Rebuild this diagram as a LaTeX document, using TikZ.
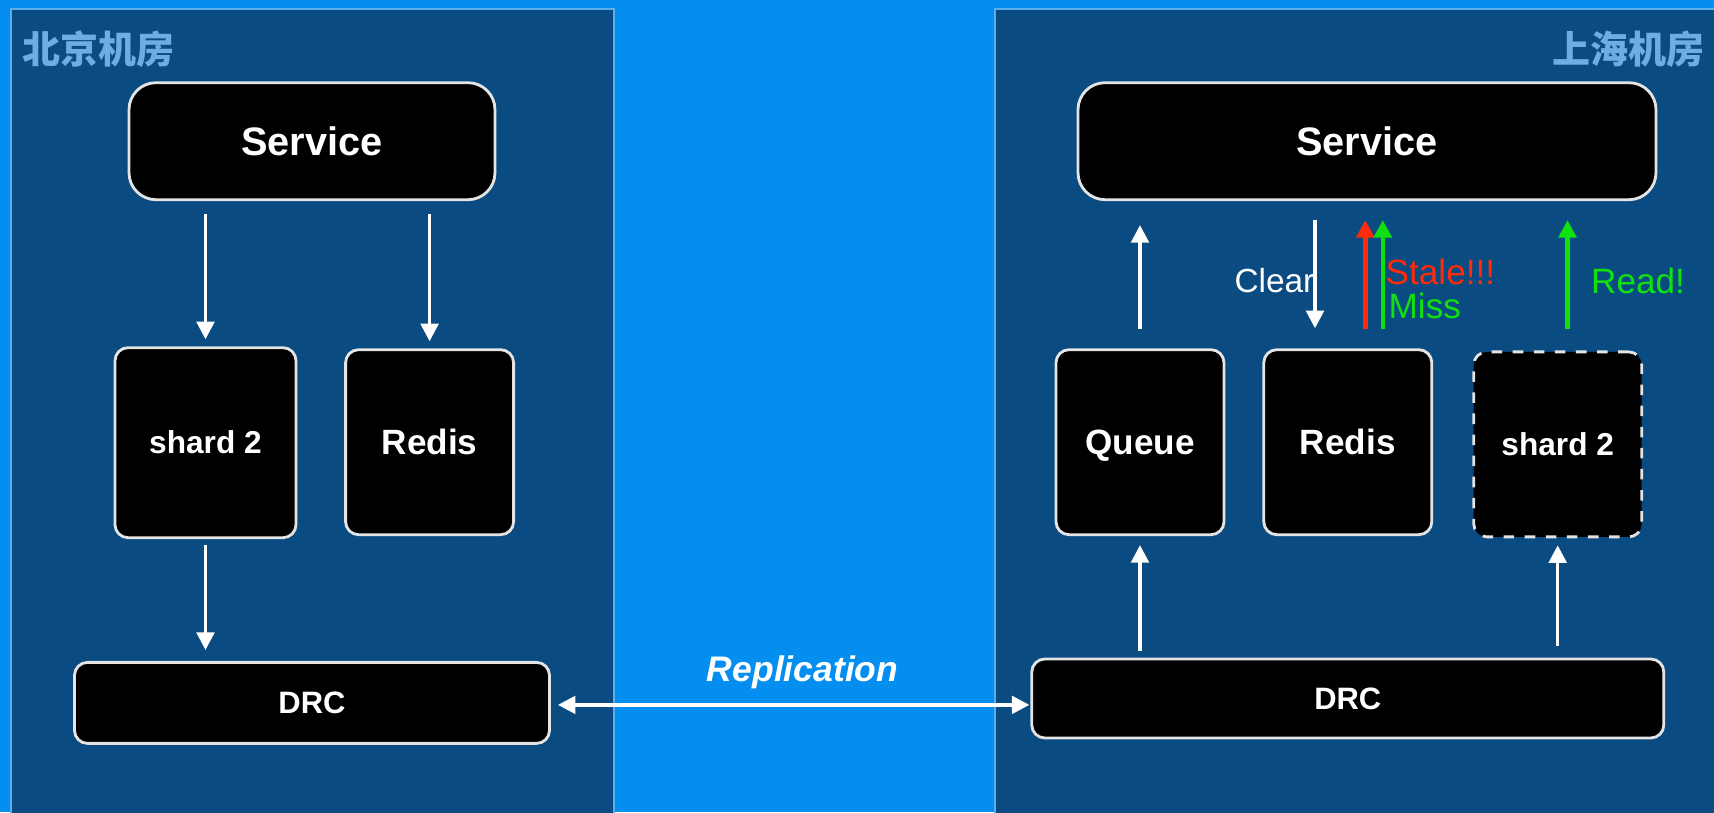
\documentclass[tikz,border=0pt]{standalone}
\usepackage{fontspec}
\setmainfont{Liberation Sans}
\newfontfamily\cjkfont{Noto Sans CJK SC}
\usetikzlibrary{arrows.meta}
\definecolor{skyblue}{HTML}{048FF0}
\definecolor{roomblue}{HTML}{0A4B82}
\definecolor{roomline}{HTML}{5AAEEA}
\definecolor{titleblue}{HTML}{6CAEE2}
\definecolor{boxline}{HTML}{E4E4E4}
\definecolor{okgreen}{HTML}{10E010}
\definecolor{badred}{HTML}{FF2A0A}

\begin{document}
\begin{tikzpicture}[box node/.style={draw=boxline, fill=black, line width=0.8pt, rounded corners=0.13cm,
              inner sep=0pt, text=white, font=\bfseries\fontsize{10pt}{12pt}\selectfont},
            white edge/.style={draw=white, line width=1pt, -{Triangle[length=5pt,width=5pt]}}]
            \tikzset{red edge/.style={draw=badred, line width=1.3pt, -{Triangle[length=5pt,width=5pt]}}}
            \tikzset{green edge/.style={draw=okgreen, line width=1.3pt, -{Triangle[length=5pt,width=5pt]}}}
            \tikzset{room/.style={fill=roomblue, draw=roomline, line width=0.6pt}}
            \tikzset{room title/.style={text=titleblue, inner sep=0pt, font=\cjkfont\bfseries\fontsize{10.8pt}{12pt}\selectfont}}
            \useasboundingbox (0,0) rectangle (17.14,8.122);
            \clip (0,0) rectangle (17.14,8.122);
            \fill[skyblue] (0,0) rectangle (17.14,8.122);
            \draw[room] (0.11,-0.2) rectangle (6.14,8.03);
            \draw[room] (9.95,-0.2) rectangle (17.4,8.03);
            \node[room title, anchor=west] (bj) at (0.22,7.63) {北京机房};
            \node[room title, anchor=east] (sh) at (17.05,7.63) {上海机房};
            % Beijing
            \node[box node, rounded corners=0.27cm, minimum width=3.66cm, minimum height=1.17cm, font=\bfseries\fontsize{11.3pt}{13pt}\selectfont] (svc1) at (3.12,6.71) {Service};
            \node[box node, minimum width=1.81cm, minimum height=1.90cm, font=\bfseries\fontsize{9pt}{11pt}\selectfont] (shard1) at (2.055,3.695) {shard 2};
            \node[box node, minimum width=1.68cm, minimum height=1.85cm] (redis1) at (4.296,3.70) {Redis};
            \node[box node, minimum width=4.75cm, minimum height=0.81cm, font=\bfseries\fontsize{8.8pt}{10pt}\selectfont] (drc1) at (3.12,1.093) {DRC};
            % Shanghai
            \node[box node, rounded corners=0.27cm, minimum width=5.78cm, minimum height=1.17cm, font=\bfseries\fontsize{11.3pt}{13pt}\selectfont] (svc2) at (13.67,6.71) {Service};
            \node[box node, text depth=0pt, minimum width=1.68cm, minimum height=1.85cm] (queue2) at (11.40,3.70) {Queue};
            \node[box node, minimum width=1.68cm, minimum height=1.85cm] (redis2) at (13.478,3.70) {Redis};
            \node[box node, dashed, minimum width=1.68cm, minimum height=1.85cm, font=\bfseries\fontsize{9pt}{11pt}\selectfont] (shard2) at (15.577,3.678) {shard 2};
            \node[box node, minimum width=6.32cm, minimum height=0.79cm, font=\bfseries\fontsize{8.8pt}{10pt}\selectfont] (drc2) at (13.478,1.137) {DRC};
            \coordinate (clr) at ([xshift=-0.328cm]redis2.north);
            \coordinate (stale) at ([xshift=0.175cm]redis2.north);
            \coordinate (miss) at ([xshift=0.35cm]redis2.north);
            \coordinate (read) at ([xshift=0.098cm]shard2.north);
            \draw[white edge, shorten <=0.13cm, shorten >=0.07cm] (svc1.south -| shard1.north) -- (shard1.north);
            \draw[white edge, shorten <=0.13cm, shorten >=0.07cm] (svc1.south -| redis1.north) -- (redis1.north);
            \draw[white edge, shorten <=0.06cm, shorten >=0.11cm] (shard1.south) -- (shard1.south |- drc1.north);
            \draw[white edge, shorten <=0.19cm, shorten >=0.24cm] (queue2.north) -- (queue2.north |- svc2.south);
            \draw[white edge, shorten <=0.07cm, shorten >=0.09cm] (queue2.south |- drc2.north) -- (queue2.south);
            \draw[white edge, shorten <=0.19cm, shorten >=0.2cm] (clr |- svc2.south) -- (clr);
            \draw[red edge, shorten <=0.19cm, shorten >=0.19cm] (stale) -- (stale |- svc2.south);
            \draw[green edge, shorten <=0.19cm, shorten >=0.19cm] (miss) -- (miss |- svc2.south);
            \draw[green edge, shorten <=0.21cm, shorten >=0.19cm] (read) -- (read |- svc2.south);
            \draw[white edge, shorten <=0.12cm, shorten >=0.07cm] (shard2.south |- drc2.north) -- (shard2.south);
            \draw[white edge, {Triangle[length=5pt,width=5pt]}-{Triangle[length=5pt,width=5pt]}, shorten <=0.07cm, shorten >=0.01cm] ([yshift=-0.02cm]drc1.east) -- ([yshift=-0.02cm]drc1.east -| drc2.west)
                node[midway, above=0.03cm, xshift=0.12cm, text=white, font=\bfseries\itshape\fontsize{10.1pt}{12pt}\selectfont] (repl) {Replication};
            \node[text=white, font=\fontsize{9.5pt}{11pt}\selectfont, anchor=east, inner sep=0pt] (clrtxt) at (13.15,5.32) {Clear};
            \node[text=badred, font=\fontsize{10pt}{11pt}\selectfont, anchor=west, inner sep=0pt] (staletxt) at (13.85,5.40) {Stale!!!};
            \node[text=okgreen, font=\fontsize{10pt}{11pt}\selectfont, anchor=west, inner sep=0pt] (misstxt) at (13.88,5.06) {Miss};
            \node[text=okgreen, font=\fontsize{10pt}{11pt}\selectfont, anchor=west, inner sep=0pt] (readtxt) at (15.905,5.31) {Read!};
        \end{tikzpicture}
\end{document}
